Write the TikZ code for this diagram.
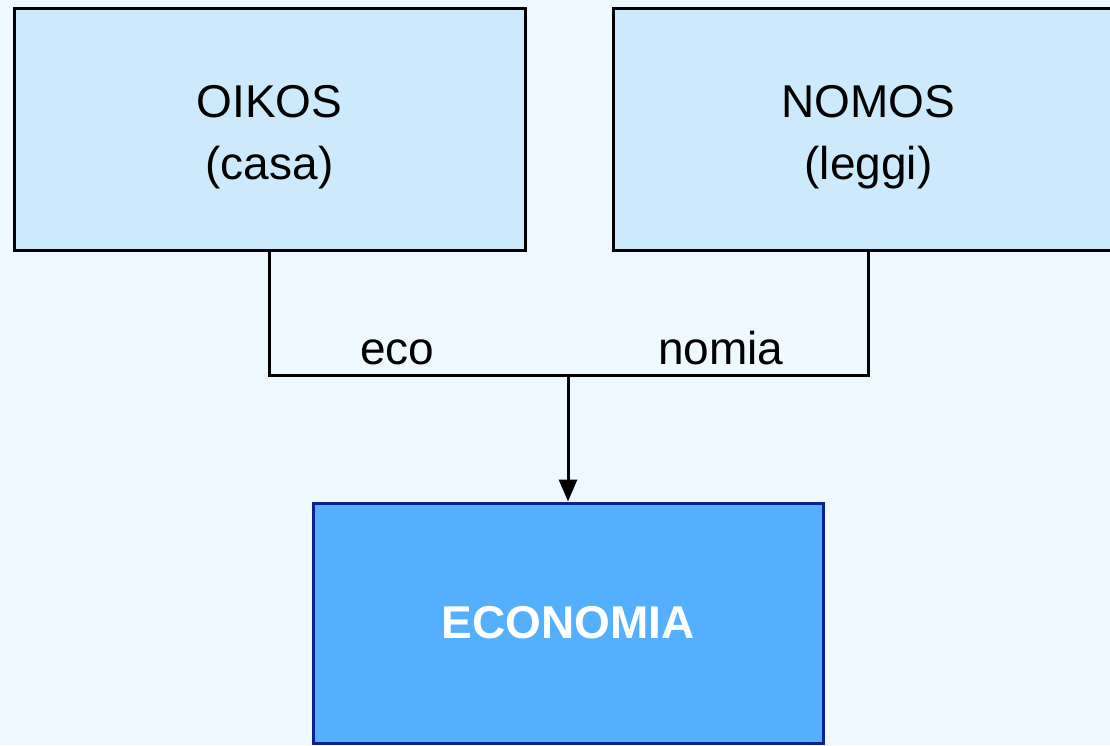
\documentclass[tikz,border=0pt]{standalone}
\usepackage{fontspec}
\setmainfont{Liberation Sans}
\usetikzlibrary{arrows.meta}
\definecolor{bgcol}{HTML}{EEF8FF}
\definecolor{boxfill}{HTML}{CCEAFC}
\definecolor{econfill}{HTML}{55AFFF}
\definecolor{econline}{HTML}{0A2290}
\begin{document}
\begin{tikzpicture}[x=1pt,y=1pt,
  wordbox/.style={draw=black, line width=3pt, fill=boxfill, minimum width=511pt, minimum height=242pt, inner sep=0pt},
  boxtext/.style={align=center, yshift=-7pt, inner sep=0pt, font=\fontsize{46}{62}\selectfont},
  econbox/.style={draw=econline, line width=3pt, fill=econfill, minimum width=510pt, minimum height=240pt, inner sep=0pt, text=white, font=\fontsize{46}{55}\selectfont\bfseries},
  conn/.style={draw=black, line width=3pt},
  lbl/.style={inner sep=0pt, anchor=base west, font=\fontsize{46}{55}\selectfont}]
\useasboundingbox (0,0) rectangle (1110,745);
\fill[bgcol] (0,0) rectangle (1110,745);
\begin{scope}
\clip (0,0) rectangle (1110,745);
\node[wordbox, label={[boxtext]center:OIKOS\\(casa)}] (oikos) at (269.5,615) {};
\node[wordbox, label={[boxtext]center:NOMOS\\(leggi)}] (nomos) at (868.5,615) {};
\node[econbox] (econ) at (568,122) {\raisebox{-4pt}{ECONOMIA}};
\coordinate (mid) at (568,369);
\draw[conn] (oikos.south) |- (mid) -| (nomos.south);
\draw[conn,-{Triangle[length=22pt,width=18pt]}] (mid) -- (econ.north);
\node[lbl] (eco) at (360,380) {eco};
\node[lbl] (nomia) at (658,380) {nomia};
\end{scope}
\end{tikzpicture}
\end{document}
